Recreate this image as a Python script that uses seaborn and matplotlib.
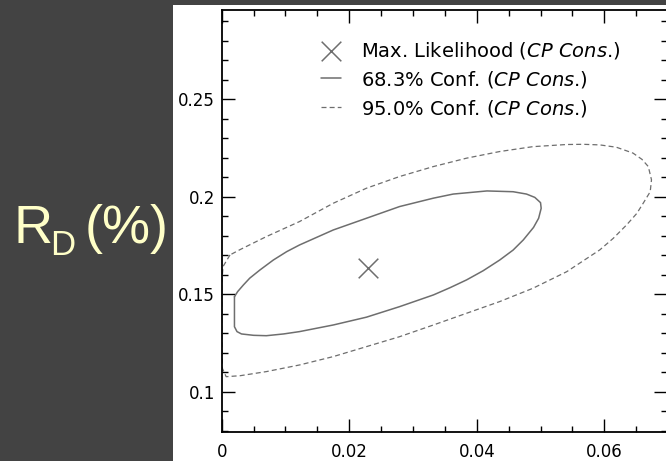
import matplotlib
matplotlib.use("Agg")
import matplotlib.pyplot as plt
import seaborn as sns
from matplotlib.patches import Rectangle

# ---------------- data ----------------
ml_x = [0.0230]
ml_y = [0.1636]

c68_x = [0.0020, 0.0020, 0.0024, 0.0031, 0.0050, 0.0070, 0.0097, 0.0122, 0.0175,
         0.0227, 0.0279, 0.0332, 0.0358, 0.0384, 0.0410, 0.0436, 0.0457, 0.0473,
         0.0489, 0.0497, 0.0501, 0.0500, 0.0491, 0.0478, 0.0457, 0.0416, 0.0363,
         0.0332, 0.0279, 0.0227, 0.0175, 0.0122, 0.0102, 0.0081, 0.0060, 0.0044,
         0.0034, 0.0025, 0.0020]
c68_y = [0.1487, 0.1333, 0.1308, 0.1296, 0.1289, 0.1287, 0.1296, 0.1308, 0.1342,
         0.1382, 0.1436, 0.1496, 0.1533, 0.1573, 0.1620, 0.1675, 0.1726, 0.1778,
         0.1842, 0.1889, 0.1940, 0.1969, 0.1996, 0.2013, 0.2025, 0.2029, 0.2013,
         0.1992, 0.1949, 0.1889, 0.1829, 0.1752, 0.1718, 0.1675, 0.1624, 0.1582,
         0.1547, 0.1513, 0.1487]

c95_x = [0.0013, 0.0002, 0.0000, 0.0000, 0.0001, 0.0007, 0.0029, 0.0070, 0.0122,
         0.0175, 0.0227, 0.0279, 0.0332, 0.0384, 0.0436, 0.0488, 0.0541, 0.0593,
         0.0614, 0.0635, 0.0651, 0.0661, 0.0672, 0.0674, 0.0669, 0.0659, 0.0645,
         0.0619, 0.0593, 0.0567, 0.0541, 0.0488, 0.0436, 0.0384, 0.0332, 0.0279,
         0.0227, 0.0175, 0.0122, 0.0070, 0.0028, 0.0013]
c95_y = [0.1701, 0.1641, 0.1550, 0.1300, 0.1120, 0.1077, 0.1082, 0.1103, 0.1137,
         0.1180, 0.1231, 0.1282, 0.1342, 0.1402, 0.1462, 0.1530, 0.1615, 0.1727,
         0.1786, 0.1855, 0.1914, 0.1966, 0.2025, 0.2086, 0.2154, 0.2191, 0.2223,
         0.2253, 0.2265, 0.2268, 0.2267, 0.2256, 0.2231, 0.2197, 0.2154, 0.2103,
         0.2043, 0.1966, 0.1872, 0.1795, 0.1727, 0.1701]

x_ticks = [0.0, 0.02, 0.04, 0.06]
x_tick_labels = ["0", "0.02", "0.04", "0.06"]
y_ticks = [0.10, 0.15, 0.20, 0.25]
y_tick_labels = ["0.1", "0.15", "0.2", "0.25"]

labels = [r"Max. Likelihood ($\mathit{CP\ Cons}$.)",
          r"68.3% Conf. ($\mathit{CP\ Cons}$.)",
          r"95.0% Conf. ($\mathit{CP\ Cons}$.)"]

# ---------------- style ----------------
sns.set_style("ticks")
plt.rcParams["font.family"] = ["DejaVu Sans"]
plt.rcParams["mathtext.fontset"] = "dejavusans"
plt.rcParams["text.color"] = "black"
plt.rcParams["xtick.color"] = "black"
plt.rcParams["ytick.color"] = "black"

W, H = 666, 461
fig = plt.figure(figsize=(W / 100, H / 100), dpi=100, facecolor="white")

# dark presentation background pieces
dark = "#434343"
fig.patches.append(Rectangle((0, 0), 173 / W, 1, transform=fig.transFigure,
                             facecolor=dark, edgecolor="none", zorder=0))
fig.patches.append(Rectangle((0, 1 - 5 / H), 1, 5 / H, transform=fig.transFigure,
                             facecolor=dark, edgecolor="none", zorder=0))

ax_left, ax_right, ax_top, ax_bot = 221.7, 666.5, 10.0, 431.7
ax = fig.add_axes([ax_left / W, 1 - ax_bot / H, (ax_right - ax_left) / W, (ax_bot - ax_top) / H])
ax.set_facecolor("white")

gray = "#6e6e6e"
sns.lineplot(x=c68_x, y=c68_y, sort=False, estimator=None, ax=ax,
             color=gray, linewidth=1.1, label=labels[1])
sns.lineplot(x=c95_x, y=c95_y, sort=False, estimator=None, ax=ax,
             color=gray, linewidth=0.9, linestyle=(0, (4, 2.5)), label=labels[2])
sns.scatterplot(x=ml_x, y=ml_y, ax=ax, marker="x", s=200, color=gray,
                linewidth=1.1, label=labels[0])

ax.set_xlim(0, (ax_right - ax_left) / 6376.7)
ax.set_ylim(0.1 - (ax_bot - 391.7) / 1951, 0.1 + (391.7 - ax_top) / 1951)

ax.set_xticks(x_ticks)
ax.set_xticklabels(x_tick_labels)
ax.set_yticks(y_ticks)
ax.set_yticklabels(y_tick_labels)
ax.xaxis.set_minor_locator(matplotlib.ticker.MultipleLocator(0.005))
ax.yaxis.set_minor_locator(matplotlib.ticker.MultipleLocator(0.01))
ax.tick_params(which="both", direction="in", top=True, right=True,
               colors="black", labelcolor="black", labelsize=12, width=1.0)
ax.tick_params(which="major", length=9.5)
ax.tick_params(which="minor", length=4.5)
ax.tick_params(axis="y", pad=5)
ax.tick_params(axis="x", pad=8)
for s in ax.spines.values():
    s.set_visible(True)
    s.set_color("black")
    s.set_linewidth(1.3)
ax.set_xlabel("")
ax.set_ylabel("")

h, l = ax.get_legend_handles_labels()
order = [l.index(lab) for lab in labels]
leg = ax.legend([h[i] for i in order], [l[i] for i in order],
                loc="upper left", bbox_to_anchor=(321 / W, 1 - 40 / H),
                bbox_transform=fig.transFigure, frameon=False, fontsize=14,
                handlelength=1.05, handletextpad=1.0, labelspacing=0.4,
                borderpad=0, borderaxespad=0, scatterpoints=1, labelcolor="black")

# Y label on dark panel
yel = "#FFFFC8"
fig.text(13 / W, 1 - 243 / H, "R", color=yel, fontsize=39,
         family="Liberation Sans", ha="left", va="baseline")
fig.text(50 / W, 1 - 255 / H, "D", color=yel, fontsize=25,
         family="Liberation Sans", ha="left", va="baseline")
fig.text(85 / W, 1 - 243 / H, "(%)", color=yel, fontsize=39,
         family="Liberation Sans", ha="left", va="baseline")

fig.savefig("out.png", dpi=100, facecolor="white")
